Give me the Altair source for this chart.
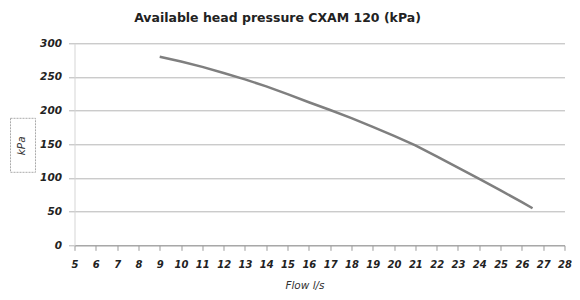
import altair as alt
import pandas as pd

flow = [9, 10, 11, 12, 13, 14, 15, 16, 17, 18, 19, 20, 21, 22, 23, 24, 25, 26, 26.5]
kpa = [280, 273, 265, 256, 246.5, 236, 224.5, 212.5, 201, 189, 176, 162.5, 148.5, 132, 115.5, 98.5, 81.5, 64, 55]

x_ticks = list(range(5, 29))
y_ticks = [0, 50, 100, 150, 200, 250, 300]

df = pd.DataFrame({"flow": flow, "kpa": kpa})

W, H = 490, 202

line = alt.Chart(df).mark_line(color="#7f7f7f", strokeWidth=2.5).encode(
    x=alt.X("flow:Q",
            scale=alt.Scale(domain=[5, 28], nice=False, zero=False),
            axis=alt.Axis(values=x_ticks, title="Flow l/s", grid=False,
                          labelFont="DejaVu Sans", labelFontSize=10,
                          labelFontWeight="bold", labelFontStyle="italic",
                          labelColor="#222222", labelPadding=9,
                          labelOverlap=False, labelBound=False, labelFlush=False,
                          tickSize=5, tickColor="#9a9a9a", domainColor="#9a9a9a",
                          titleFont="DejaVu Sans", titleFontSize=10.5,
                          titleFontStyle="italic", titleFontWeight="normal",
                          titleColor="#333333", titleX=230, titleY=45,
                          titleBaseline="bottom")),
    y=alt.Y("kpa:Q",
            scale=alt.Scale(domain=[0, 300], nice=False),
            axis=alt.Axis(values=y_ticks, title="kPa", grid=True,
                          gridColor="#b5b5b5", gridWidth=1,
                          labelFont="DejaVu Sans", labelFontSize=10.5,
                          labelFontWeight="bold", labelFontStyle="italic",
                          labelColor="#222222", labelPadding=7,
                          labelOverlap=False,
                          tickSize=6, tickColor="#b5b5b5", domainColor="#d5d5d5",
                          titleFont="DejaVu Sans", titleFontSize=10.5,
                          titleFontStyle="italic", titleFontWeight="normal",
                          titleColor="#333333", titleX=-48, titleY=102, titleAngle=270)),
)

box = alt.Chart(pd.DataFrame({"a": [0]})).mark_rect(
    fill="transparent", stroke="#aaaaaa", strokeWidth=1, strokeDash=[2, 1], clip=False
).encode(
    x=alt.value(-64), x2=alt.value(-39), y=alt.value(75), y2=alt.value(129)
)

chart = alt.layer(box, line).properties(
    width=W, height=H,
    title=alt.Title("Available head pressure CXAM 120 (kPa)",
                    font="DejaVu Sans", fontSize=12.5, fontWeight="bold",
                    color="#222222", anchor="middle", dx=-42, offset=14),
    autosize=alt.AutoSizeParams(type="none"),
    padding={"left": 66.5, "top": 35.3, "right": 7, "bottom": 46},
).configure_view(stroke=None)

chart.save("out.html", embed_options={"renderer": "svg", "actions": False})
